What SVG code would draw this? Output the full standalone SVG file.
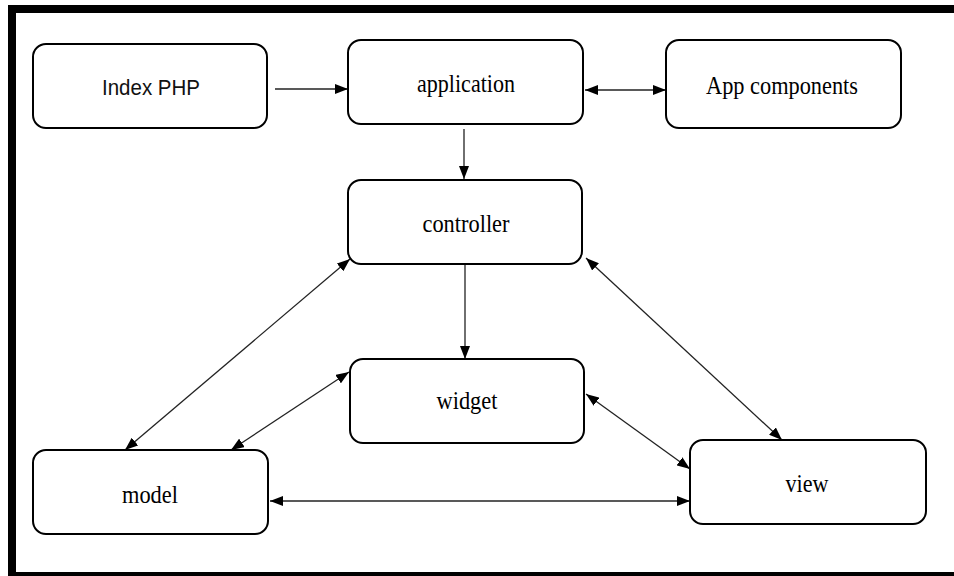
<svg xmlns="http://www.w3.org/2000/svg" width="954" height="576" viewBox="0 0 954 576">
<style>
.box{fill:#fff;stroke:#000;stroke-width:2}
.lbl{font-family:"Liberation Serif","Times New Roman",serif;font-size:26px;fill:#000;text-anchor:middle}
.sans{font-family:"Liberation Sans",Arial,sans-serif;font-size:22px;fill:#111;text-anchor:middle}
.ln{stroke:#222;stroke-width:1.3;fill:none}
</style>
<defs>
<marker id="ah" viewBox="0 0 13 10" refX="13" refY="5" markerWidth="13" markerHeight="10" markerUnits="userSpaceOnUse" orient="auto-start-reverse">
<path d="M0,0 L13,5 L0,10 z" fill="#000"/>
</marker>
</defs>
<rect x="0" y="0" width="954" height="576" fill="#fff"/>
<g id="frame">
<rect x="8" y="5" width="946" height="8" fill="#000"/>
<rect x="8" y="5" width="8" height="571" fill="#000"/>
<rect x="8" y="572" width="946" height="4" fill="#000"/>
</g>
<g id="connectors">
<line class="ln" x1="275" y1="89" x2="348" y2="89" marker-end="url(#ah)"/>
<line class="ln" x1="585" y1="90" x2="666" y2="90" marker-start="url(#ah)" marker-end="url(#ah)"/>
<line class="ln" x1="464" y1="129" x2="464" y2="179" marker-end="url(#ah)"/>
<line class="ln" x1="465" y1="265" x2="465" y2="359" marker-end="url(#ah)"/>
<line class="ln" x1="350" y1="259" x2="125" y2="450" marker-start="url(#ah)" marker-end="url(#ah)"/>
<line class="ln" x1="349" y1="372" x2="231" y2="450" marker-start="url(#ah)" marker-end="url(#ah)"/>
<line class="ln" x1="586" y1="258" x2="782" y2="440" marker-start="url(#ah)" marker-end="url(#ah)"/>
<line class="ln" x1="586" y1="394" x2="690" y2="469" marker-start="url(#ah)" marker-end="url(#ah)"/>
<line class="ln" x1="270" y1="501" x2="690" y2="501" marker-start="url(#ah)" marker-end="url(#ah)"/>
</g>
<g id="index-php"><rect class="box" x="33" y="44" width="234" height="84" rx="13"/><text class="sans" x="151" y="95" textLength="98" lengthAdjust="spacingAndGlyphs">Index PHP</text></g>
<g id="application"><rect class="box" x="348" y="40" width="235" height="84" rx="13"/><text class="lbl" x="466" y="92" textLength="98" lengthAdjust="spacingAndGlyphs">application</text></g>
<g id="app-components"><rect class="box" x="666" y="40" width="235" height="88" rx="13"/><text class="lbl" x="782" y="94" textLength="152" lengthAdjust="spacingAndGlyphs">App components</text></g>
<g id="controller"><rect class="box" x="348" y="180" width="234" height="84" rx="13"/><text class="lbl" x="466" y="232" textLength="87" lengthAdjust="spacingAndGlyphs">controller</text></g>
<g id="widget"><rect class="box" x="350" y="359" width="234" height="84" rx="13"/><text class="lbl" x="467" y="409" textLength="61" lengthAdjust="spacingAndGlyphs">widget</text></g>
<g id="model"><rect class="box" x="33" y="450" width="235" height="84" rx="13"/><text class="lbl" x="150" y="503" textLength="56" lengthAdjust="spacingAndGlyphs">model</text></g>
<g id="view"><rect class="box" x="690" y="440" width="236" height="84" rx="13"/><text class="lbl" x="807" y="492" textLength="43" lengthAdjust="spacingAndGlyphs">view</text></g>
</svg>
